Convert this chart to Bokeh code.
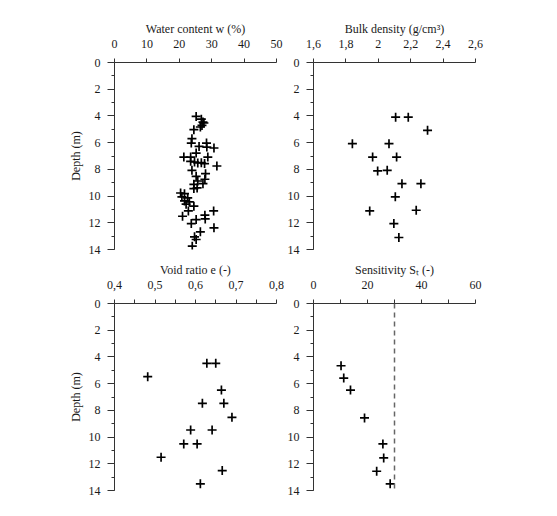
from bokeh.plotting import figure
from bokeh.layouts import column, row
from bokeh.models import Range1d, FixedTicker, SingleIntervalTicker, CustomJSTickFormatter, Span
from bokeh.embed import file_html
from bokeh.resources import INLINE

# Water content w (%) vs depth (m)
w_value = [25.2, 26.8, 27.3, 27.6, 27.0, 26.5, 24.5, 23.9, 23.7, 28.4, 26.1, 28.5, 30.7, 25.2,
           28.8, 21.4, 23.5, 23.5, 24.7, 25.7, 26.8, 27.8, 31.6, 23.9, 28.1, 25.2, 27.9, 25.7,
           27.3, 24.5, 25.5, 24.5, 20.4, 21.6, 20.8, 22.6, 21.6, 23.1, 22.1, 24.5, 22.8, 30.6,
           27.9, 21.0, 28.0, 25.2, 23.7, 30.7, 26.5, 24.7, 25.2, 24.0]
w_depth = [4.04, 4.24, 4.46, 4.53, 4.71, 4.83, 5.03, 5.70, 6.03, 6.03, 6.28, 6.33, 6.40, 6.78,
           7.08, 7.08, 7.08, 7.40, 7.45, 7.52, 7.50, 7.57, 7.75, 8.07, 8.32, 8.52, 8.74, 8.87,
           9.07, 9.12, 9.39, 9.44, 9.77, 9.82, 10.06, 10.14, 10.36, 10.44, 10.61, 10.76, 11.11, 11.11,
           11.43, 11.51, 11.71, 11.76, 12.06, 12.38, 12.68, 13.05, 13.25, 13.75]

# Bulk density (g/cm3) vs depth
rho_value = [2.107, 2.185, 2.304, 1.840, 2.066, 1.965, 2.113, 1.996, 2.055, 2.146, 2.263,
             2.105, 1.947, 2.234, 2.096, 2.127]
rho_depth = [4.09, 4.09, 5.08, 6.08, 6.08, 7.08, 7.08, 8.12, 8.07, 9.07, 9.07,
             10.06, 11.11, 11.06, 12.06, 13.10]

# Void ratio e (-) vs depth
e_value = [0.628, 0.650, 0.482, 0.664, 0.617, 0.670, 0.690, 0.588, 0.641, 0.571, 0.604,
           0.515, 0.666, 0.612]
e_depth = [4.48, 4.48, 5.48, 6.48, 7.47, 7.47, 8.52, 9.47, 9.47, 10.51, 10.51,
           11.51, 12.51, 13.50]

# Sensitivity St (-) vs depth
st_value = [10.2, 11.2, 13.7, 18.9, 25.7, 26.0, 23.4, 28.4]
st_depth = [4.66, 5.58, 6.48, 8.57, 10.51, 11.56, 12.56, 13.50]
st_limit = 30

# Axes
depth_range = (14, 0)
w_range = (0, 50)
w_ticks = [0, 10, 20, 30, 40, 50]
rho_range = (1.6, 2.6)
rho_ticks = [1.6, 1.8, 2.0, 2.2, 2.4, 2.6]
e_range = (0.4, 0.8)
e_ticks = [0.4, 0.5, 0.6, 0.7, 0.8]
e_minor = [0.45, 0.55, 0.65, 0.75]
st_range = (0, 60)
st_ticks = [0, 20, 40, 60]
st_minor = [10, 30, 50]

FONT = "'Liberation Serif', 'Times New Roman', serif"
AX = "#333333"
TXT = "#1a1a1a"
MS = 9
MLW = 1.7


def make(xr, ticks, minor, xlabel, ylabel, ml, mr, mt, mb):
    p = figure(frame_width=162, frame_height=187,
               x_range=Range1d(*xr), y_range=Range1d(*depth_range),
               x_axis_location="above", output_backend="svg", toolbar_location=None,
               min_border_left=ml, min_border_right=mr, min_border_top=mt, min_border_bottom=mb)
    p.outline_line_color = None
    p.grid.visible = False
    p.background_fill_color = "white"
    p.border_fill_color = "white"

    xa = p.xaxis[0]
    xa.ticker = FixedTicker(ticks=ticks, minor_ticks=minor)
    xa.formatter = CustomJSTickFormatter(
        code="return (Math.round(tick*100)/100).toString().replace('.', ',');")
    xa.axis_label = xlabel
    xa.major_tick_in = 0
    xa.major_tick_out = 4
    xa.minor_tick_in = 0
    xa.minor_tick_out = 4
    xa.major_label_standoff = 11
    xa.axis_label_standoff = 1

    ya = p.yaxis[0]
    ya.ticker = SingleIntervalTicker(interval=2, num_minor_ticks=2)
    ya.axis_label = ylabel
    ya.major_tick_in = 0
    ya.major_tick_out = 7
    ya.minor_tick_in = 0
    ya.minor_tick_out = 3
    ya.major_label_standoff = 7
    ya.axis_label_standoff = 3

    for ax in (xa, ya):
        ax.axis_line_color = AX
        ax.major_tick_line_color = AX
        ax.minor_tick_line_color = AX
        ax.major_label_text_font = FONT
        ax.major_label_text_font_size = "12px"
        ax.major_label_text_color = TXT
        ax.axis_label_text_font = FONT
        ax.axis_label_text_font_size = "12px"
        ax.axis_label_text_font_style = "normal"
        ax.axis_label_text_color = TXT
    return p


p1 = make(w_range, w_ticks, [], "Water content w (%)", "Depth (m)", 114, 8, 62, 6)
p1.scatter(w_value, w_depth, marker="cross", size=MS, line_width=MLW, line_color="black")

p2 = make(rho_range, rho_ticks, [], "Bulk density (g/cm³)", None, 26, 15, 62, 6)
p2.scatter(rho_value, rho_depth, marker="cross", size=MS, line_width=MLW, line_color="black")

p3 = make(e_range, e_ticks, e_minor, "Void ratio e (-)", "Depth (m)", 114, 8, 48, 10)
p3.scatter(e_value, e_depth, marker="cross", size=MS, line_width=MLW, line_color="black")

p4 = make(st_range, st_ticks, st_minor, "Sensitivity Sₜ (-)", None, 26, 15, 48, 10)
p4.add_layout(Span(location=st_limit, dimension="height", line_color="#666666",
                   line_width=1.5, line_dash="5 4"))
p4.scatter(st_value, st_depth, marker="cross", size=MS, line_width=MLW, line_color="black")

layout = column(row(p1, p2), row(p3, p4))
open("out.html", "w").write(file_html(layout, INLINE))
